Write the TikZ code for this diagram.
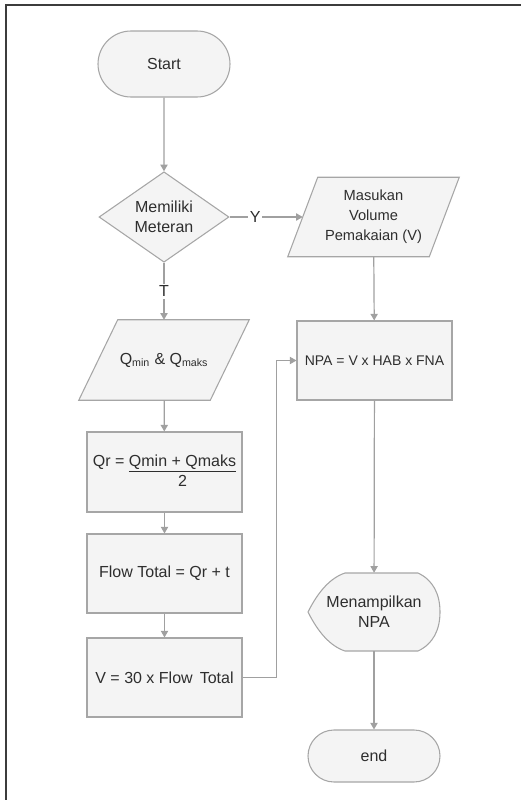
\documentclass[tikz,border=0pt]{standalone}
\usepackage{fontspec}
\setmainfont{Liberation Sans}
\usepackage{tikz}
\usetikzlibrary{arrows.meta}
\usetikzlibrary{shapes.geometric,shapes.misc}
\usetikzlibrary{backgrounds,calc}

\definecolor{shapefill}{HTML}{F4F4F4}
\definecolor{shapeline}{HTML}{A6A6A6}
\definecolor{conline}{HTML}{A0A0A0}
\definecolor{txtgray}{HTML}{2E2E2E}
\definecolor{framegray}{HTML}{3C3C3C}

\begin{document}
\begin{tikzpicture}[x=0.75pt,y=-0.75pt,
			every node/.style={font=\fontsize{12}{15}\selectfont,text=txtgray,align=center,inner sep=0pt},
			shp/.style={draw=shapeline,fill=shapefill,line width=0.8pt},
			term/.style={shp,rounded rectangle,minimum width=99pt},
			proc/.style={shp,rectangle,minimum width=116.25pt,minimum height=59.25pt},
			conn/.style={draw=conline,line width=0.9pt,-{Triangle[length=5pt,width=5.5pt]}},
			lbl/.style={fill=white,inner sep=1.5pt}]
			\useasboundingbox (0,0) rectangle (521,800);
			\draw[framegray,line width=1.5pt] (6,800) -- (6,5) -- (521,5);
			
			% left column
			\node[term,minimum height=49.5pt] (start) at (164,64) {Start};
			\node[shp,diamond,minimum width=97.5pt,minimum height=59.25pt] (dec) at (164,217) {Memiliki\\Meteran};
			\node[minimum width=98.25pt,minimum height=60pt] (qin) at (164,360) {Q\textsubscript{min} \& Q\textsubscript{maks}};
			\node[proc,minimum height=60pt] (qr) at (164.5,472) {Qr = \begin{tabular}[t]{@{}c@{}}\underline{Qmin + Qmaks}\\2\end{tabular}};
			\node[proc] (flow) at (164.5,573.5) {Flow Total = Qr + t};
			\node[proc] (vol) at (164.5,677.5) {V = 30 x Flow\, Total};
			
			% right column
			\node[minimum width=105.75pt,minimum height=59.25pt,font=\fontsize{11}{15}\selectfont] (inp) at (373.5,217) {Masukan\\Volume\\Pemakaian (V)};
			\node[proc,font=\fontsize{10.5}{13}\selectfont] (npa) at (374.5,360.5) {NPA = V x HAB x FNA};
			\node[minimum width=99pt,minimum height=58.5pt] (disp) at (374,612) {Menampilkan\\NPA};
			\node[term,minimum height=39pt] (stop) at (374,756) {end};
			
			\begin{scope}[on background layer]
				\draw[shp] ($(qin.north west)+(19.5,0)$) -- ($(qin.north east)+(19.5,0)$) -- ($(qin.south east)+(-19.5,0)$) -- ($(qin.south west)+(-19.5,0)$) -- cycle;
				\draw[shp] ($(inp.north west)+(15,0)$) -- ($(inp.north east)+(15,0)$) -- ($(inp.south east)+(-15,0)$) -- ($(inp.south west)+(-15,0)$) -- cycle;
				\draw[shp,shift={(disp.center)}] (-66,0) .. controls (-56,-20) and (-44,-34) .. (-29,-39) -- (44,-39) .. controls (59,-32) and (66,-18) .. (66,0) .. controls (66,18) and (59,32) .. (44,39) -- (-29,39) .. controls (-44,34) and (-56,20) .. (-66,0) -- cycle;
			\end{scope}
			
			\draw[conn] (start) -- (dec);
			\draw[conn] (dec) -- node[lbl,pos=0.35]{Y} (dec.east -| inp.west);
			\draw[conn] (dec) -- node[lbl]{T} (qin);
			\draw[conn] (qin) -- (qr);
			\draw[conn] (qr) -- (flow);
			\draw[conn] (flow) -- (vol);
			\draw[conn] (vol.east) -- ++(34,0) |- (npa.west);
			\draw[conn] (inp) -- (npa);
			\draw[conn] (npa) -- (disp);
			\draw[conn] (disp) -- (stop);
		\end{tikzpicture}
\end{document}
